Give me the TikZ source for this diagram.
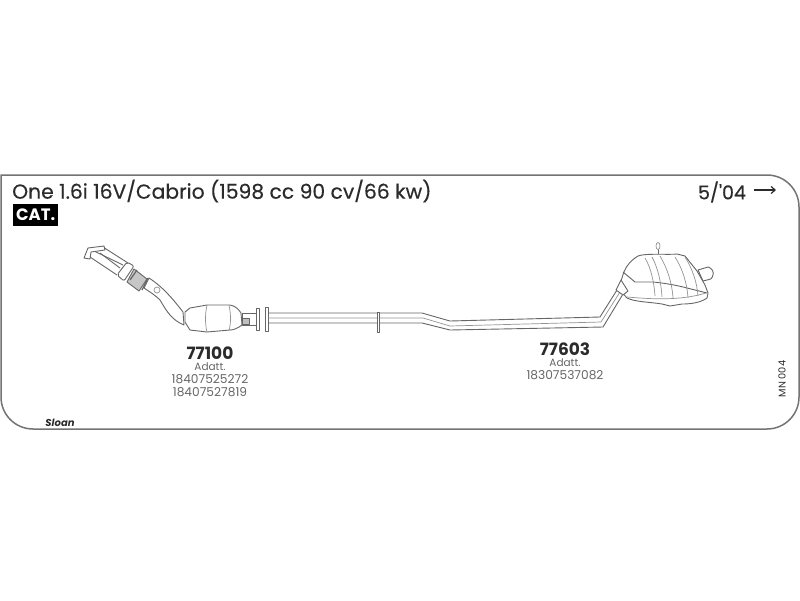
\documentclass[tikz,border=0pt]{standalone}
\usepackage{fontspec}
\setmainfont{Poppins}
\newfontfamily\headfont[FakeBold=0.35]{Poppins}
\usepackage{xcolor}
\usetikzlibrary{positioning, arrows.meta, calc}
\definecolor{inkline}{HTML}{666666}
\definecolor{inktext}{HTML}{2B2B2B}
\begin{document}
\begin{tikzpicture}[
    x=1pt, y=-1pt,
    frameline/.style={draw=black!55, line width=1.5pt},
    partline/.style={draw=inkline, line width=0.9pt, line join=round},
    thinline/.style={draw=gray!85, line width=0.7pt},
    partnumber/.style={font=\fontsize{17}{17}\selectfont\bfseries, text=inktext, inner sep=0pt},
    smalltext/.style={font=\fontsize{12.2}{12.2}\selectfont, text=black!60, inner sep=0pt},
    adatttext/.style={font=\fontsize{10.5}{10.5}\selectfont, text=black!60, inner sep=0pt}
]
\useasboundingbox (0,0) rectangle (800,600);

% Frame
\draw[frameline] (1,175) -- (40,175) [rounded corners=32pt] -- (799,175) -- (799,429) -- (1,429) -- (1,300) [sharp corners] -- cycle;

% Heading
\node[anchor=west, inner sep=0pt, text=inktext, font=\fontsize{20.3}{20.3}\headfont] (title) at (12,191) {One 1.6i 16V/Cabrio (1598 cc 90 cv/66 kw)};
\node[anchor=west, fill=black, text=white, font=\fontsize{16.5}{16.5}\selectfont\bfseries, minimum width=45pt, minimum height=22pt, inner sep=0pt] (cat) at (13,215) {CAT.};
\node[inner sep=0pt, text=inktext, font=\fontsize{19}{19}\headfont] (date) at (722,192) {5/'04};
\coordinate (dateend) at (776,190);
\draw[-{Straight Barb[length=4pt,width=7pt]}, inktext, line width=1.2pt] (date.east) ++(8,-2) -- (dateend);

% Manifold and flexible joint
\draw[partline] (92,250) -- (123,265);
\draw[partline] (103,247) -- (128,263);
\draw[partline] (90,257) -- (117,275);
\draw[partline] (100,253) -- (120,268);
\draw[partline, fill=white] (84,258) -- (88,248) -- (104,246) -- (105,250) -- (91,252) -- (90,259) -- cycle;
\draw[partline, fill=white, rounded corners=2pt] (117,275) -- (127,262) -- (134,266) -- (124,281) -- cycle;
\draw[partline, fill=gray!45] (134,269) -- (147,279) -- (139,291) -- (127,282) -- cycle;
\draw[partline, line width=1.2pt] (137,270) -- (130,280);
\draw[partline, line width=1.2pt] (148,278) -- (142,290);

% Front pipe
\draw[partline, fill=white] (149,278) .. controls (160,285) and (170,295) .. (183,312) -- (184,325)
    .. controls (172,320) and (167,312) .. (160,300) .. controls (155,295) and (150,292) .. (144,288) -- cycle;
\draw[thinline] (157,290) circle (3pt);

% Catalytic converter
\draw[partline, fill=white] (185,312) -- (190,308) -- (207,305) -- (230,305) .. controls (236,306) and (239,310) .. (241,313) -- (242,325)
    .. controls (238,328) and (234,330) .. (230,330) -- (207,332) -- (190,330) -- (185,322) -- cycle;
\draw[thinline] (207,305) .. controls (205,314) and (205,324) .. (207,332);
\draw[thinline] (229,305) .. controls (231,314) and (231,324) .. (229,330);
\draw[partline, fill=white] (242,313) -- (258,313) -- (258,325) -- (242,325) -- cycle;
\draw[partline, fill=gray!50] (242,318) rectangle (249,324);
\draw[partline, fill=white] (256,308) rectangle (259,330);
\draw[partline, fill=white] (265,307) rectangle (268,331);

% Centre pipe
\draw[partline] (268,313) -- (422,313) -- (450,321) -- (600,317) -- (617,290);
\draw[partline] (268,323) -- (422,323) -- (450,330) -- (603,327) -- (623,294);
\draw[thinline] (268,318) -- (423,318) -- (450,326) -- (601,322) -- (620,292);
\draw[partline, fill=white] (377,312) rectangle (379,332);

% Rear silencer
\draw[partline, fill=white] (698,270) -- (708,267) .. controls (712,268) and (714,272) .. (713,275) .. controls (712,279) and (710,280) .. (707,280) -- (703,281) -- cycle;
\draw[partline, fill=white] (622,278) .. controls (624,270) and (628,262) .. (638,256) .. controls (645,253) and (670,255) .. (677,254) -- (685,256) -- (697,271) -- (705,285) -- (708,293) -- (707,298)
    .. controls (700,303) and (690,304) .. (682,304) -- (670,306) -- (662,304) .. controls (650,302) and (635,302) .. (627,298) -- (618,288) -- cycle;
\draw[thinline] (627,297) .. controls (650,299) and (680,301) .. (706,293);
\draw[partline] (623,272) -- (635,282) -- (653,282) .. controls (665,283) and (680,286) .. (687,288) -- (707,293);
\draw[thinline] (645,258) .. controls (651,268) and (654,282) .. (655,296);
\draw[thinline] (652,257) .. controls (658,268) and (661,282) .. (662,297);
\draw[thinline] (660,256) .. controls (667,268) and (672,282) .. (673,298);
\draw[thinline] (675,257) .. controls (682,268) and (687,282) .. (688,298);
\draw[thinline] (685,257) .. controls (692,268) and (697,282) .. (698,296);
\draw[partline] (658,254) -- (658,249);
\draw[thinline, fill=white] (658,246) ellipse (2pt and 3.5pt);
\draw[partline, fill=white] (616,290) -- (621,280) -- (628,291) -- (623,295) -- cycle;

% Part references
\node[partnumber] (cat part) at (210,353) {77100};
\node[adatttext] (cat adatt) at (210,367) {Adatt.};
\node[smalltext] (cat first) at (210,379) {18407525272};
\node[smalltext, below=3pt of cat first] (cat second) {18407527819};
\node[partnumber] (silencer part) at (565,349) {77603};
\node[adatttext] (silencer adatt) at (565,363) {Adatt.};
\node[smalltext] (silencer first) at (565,375) {18307537082};

% Page marks
\node[rotate=90, inner sep=0pt, text=inktext, font=\fontsize{9.8}{9.8}\selectfont] (sheet) at (782,379) {MN 004};
\node[inner sep=0pt, text=inktext, font=\fontsize{10}{10}\selectfont\bfseries\itshape] (brand) at (60,423) {Sloan};
\end{tikzpicture}
\end{document}
